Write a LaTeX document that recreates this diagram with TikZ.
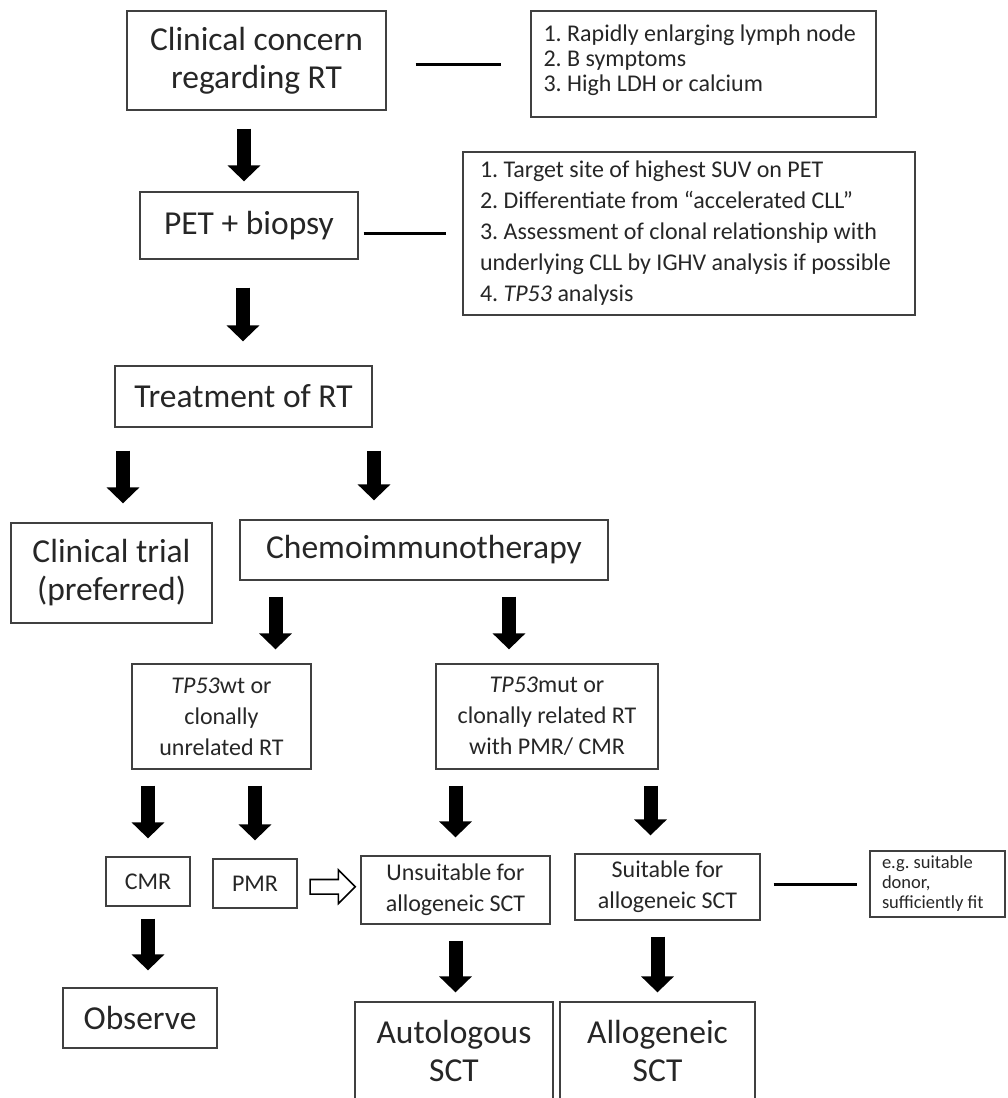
\documentclass[tikz,border=0pt]{standalone}
\usepackage{fontspec}
\setmainfont{Carlito}
\frenchspacing
\usetikzlibrary{arrows.meta, shapes.arrows, calc}

\tikzset{
  box/.style={draw=black!75, line width=1.3pt, text=black!85, align=center, inner sep=0pt},
  bigtext/.style={font=\fontsize{33.5}{38}\selectfont},
  midtext/.style={font=\fontsize{24}{31}\selectfont},
  smalltext/.style={font=\fontsize{18.5}{20}\selectfont},
  listbox/.style={box, align=flush left, inner xsep=17pt},
  blk/.style={line width=14pt, shorten <=16pt, shorten >=14pt, -{Triangle[length=16pt,width=32pt]}},
  bar/.style={draw=black, line width=3pt},
  hollow/.style={draw=black, line width=1.6pt, fill=white, single arrow, single arrow head extend=9.5pt, minimum height=45pt, inner sep=6.5pt},
}

\begin{document}
\begin{tikzpicture}[x=1pt,y=1pt,yscale=-1,xscale=1]
    \useasboundingbox (0,0) rectangle (1007,1098);
    \clip (0,0) rectangle (1007,1098);

    % Text Node
    \node[box, bigtext, minimum width=259, minimum height=99] (concern) at (256.5,60.5) {Clinical concern\\regarding RT};
    % Text Node
    \node[listbox, midtext, font=\fontsize{24}{25}\selectfont, inner xsep=12.5pt, text width=320, minimum height=106] (sym) at (703.5,64) {1. Rapidly enlarging lymph node\\2. B symptoms\\3. High LDH or calcium\par\vspace*{8pt}};
    % Text Node
    \node[box, bigtext, minimum width=218, minimum height=67] (pet) at (249,225.5) {PET + biopsy};
    % Text Node
    \node[listbox, midtext, text width=418, minimum height=163] (petnote) at (689,233.5) {1. Target site of highest SUV on PET\\2. Differentiate from “accelerated CLL”\\3. Assessment of clonal relationship with\\underlying CLL by IGHV analysis if possible\\4. \textit{TP53} analysis};
    % Text Node
    \node[box, bigtext, minimum width=257, minimum height=61] (treat) at (243.5,396.5) {Treatment of RT};
    % Text Node
    \node[box, bigtext, minimum width=201, minimum height=100] (trial) at (111.5,573) {Clinical trial\\(preferred)};
    % Text Node
    \node[box, bigtext, minimum width=368, minimum height=60] (chemo) at (424,550) {Chemoimmunotherapy};
    % Text Node
    \node[box, midtext, minimum width=179, minimum height=105] (tpwt) at (221.5,716.5) {\textit{TP53}wt or\\clonally\\unrelated RT};
    % Text Node
    \node[box, midtext, minimum width=222, minimum height=105] (tpmut) at (547,716.5) {\textit{TP53}mut or\\clonally related RT\\with PMR/ CMR};
    % Text Node
    \node[box, midtext, minimum width=84, minimum height=49] (cmr) at (148,881.5) {CMR};
    % Text Node
    \node[box, midtext, minimum width=84, minimum height=49] (pmr) at (255,883.5) {PMR};
    % Text Node
    \node[box, midtext, minimum width=189, minimum height=68] (unsuit) at (455.5,890) {Unsuitable for\\allogeneic SCT};
    % Text Node
    \node[box, midtext, minimum width=185, minimum height=66] (suit) at (667.5,887) {Suitable for\\allogeneic SCT};
    % Text Node
    \node[box, smalltext, align=flush left, inner xsep=12pt, text width=111, minimum height=66] (eg) at (937.5,884) {e.g. suitable\\donor,\\sufficiently fit};
    % Text Node
    \node[box, bigtext, minimum width=154, minimum height=60] (observe) at (140,1018) {Observe};
    % Text Node
    \node[box, bigtext, minimum width=198, minimum height=98] (auto) at (454,1051) {Autologous\\SCT};
    % Text Node
    \node[box, bigtext, minimum width=195, minimum height=98] (allo) at (657.5,1051) {Allogeneic\\SCT};

    %Straight Lines
    \draw[bar, shorten <=29pt, shorten >=29pt] (concern.east |- sym.west) -- (sym.west);
    \draw[bar, shorten <=5pt, shorten >=16pt] (pet.east |- petnote.west) -- (petnote.west);
    \draw[bar, shorten <=13pt, shorten >=12pt] (suit.east |- eg.west) -- (eg.west);

    %Block Arrows
    \draw[blk, shorten <=18pt, shorten >=10pt] ([xshift=-5pt]pet.north |- concern.south) -- ([xshift=-5pt]pet.north);
    \draw[blk, shorten <=28pt, shorten >=24pt] ([xshift=-6pt]pet.south) -- ([xshift=-6pt]pet.south |- treat.north);
    \draw[blk, shorten <=23pt, shorten >=19pt] ([xshift=11.5pt]trial.north |- treat.south) -- ([xshift=11.5pt]trial.north);
    \draw[blk, shorten <=23pt, shorten >=19pt] ([xshift=-50pt]chemo.north |- treat.south) -- ([xshift=-50pt]chemo.north);
    \draw[blk] ([xshift=54pt]tpwt.north |- chemo.south) -- ([xshift=54pt]tpwt.north);
    \draw[blk] ([xshift=-38pt]tpmut.north |- chemo.south) -- ([xshift=-38pt]tpmut.north);
    \draw[blk, shorten >=18pt] (cmr |- tpwt.south) -- (cmr.north);
    \draw[blk, shorten >=18pt] (pmr |- tpwt.south) -- (pmr.north);
    \draw[blk, shorten >=18pt] (unsuit |- tpmut.south) -- (unsuit.north);
    \draw[blk, shorten >=18pt] ([xshift=-17pt]suit.north |- tpmut.south) -- ([xshift=-17pt]suit.north);
    \draw[blk, shorten <=12pt, shorten >=17pt] (cmr.south) -- (cmr.south |- observe.north);
    \draw[blk, shorten >=9pt] (unsuit.south) -- (unsuit.south |- auto.north);
    \draw[blk, shorten >=9pt] (allo.north |- suit.south) -- (allo.north);

    %Hollow Arrow
    \node[hollow] (pmrgo) at ($(pmr.east)!0.5!(unsuit.west)$) {};

\end{tikzpicture}
\end{document}
